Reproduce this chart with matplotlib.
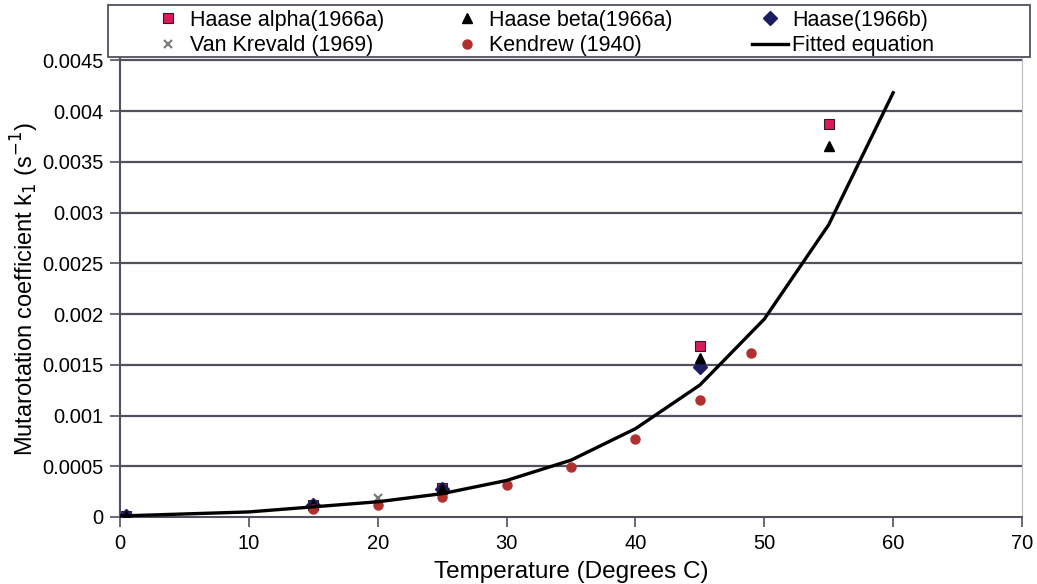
import matplotlib.pyplot as plt
from matplotlib.patches import Rectangle
from matplotlib.ticker import FixedLocator

plt.rcParams['font.family'] = ['Liberation Sans', 'DejaVu Sans']

# data
alpha_t = [0.5, 15, 25, 45, 55]
alpha_k = [0.00001, 0.00012, 0.00029, 0.00168, 0.00387]
beta_t = [0.5, 15, 25, 45, 55]
beta_k = [0.00001, 0.00012, 0.00028, 0.00157, 0.00366]
haaseb_t = [0.5, 15, 25, 45]
haaseb_k = [0.00001, 0.00012, 0.00028, 0.00148]
vank_t = [20]
vank_k = [0.00019]
kend_t = [15, 20, 25, 30, 35, 40, 45, 49]
kend_k = [0.00008, 0.00012, 0.0002, 0.00032, 0.00049, 0.00077, 0.00115, 0.00162]
fit_t = [0, 10, 15, 20, 25, 30, 35, 40, 45, 50, 55, 60]
fit_k = [0.00001, 0.00005, 0.0001, 0.00015, 0.00023, 0.00036, 0.00056, 0.00087, 0.0013, 0.00195, 0.00288, 0.00418]

yticks = [0, 0.0005, 0.001, 0.0015, 0.002, 0.0025, 0.003, 0.0035, 0.004, 0.0045]
ylabels = ['0', '0.0005', '0.001', '0.0015', '0.002', '0.0025', '0.003', '0.0035', '0.004', '0.0045']

W, H = 1037, 584
fig = plt.figure(figsize=(W / 100, H / 100), dpi=100)
ax = fig.add_axes([120 / W, 1 - 517 / H, 902 / W, 477 / H])

grid_c = '#50505e'
for y in yticks[1:]:
    ax.axhline(y, color=grid_c, lw=1.6, zorder=1)

h1, = ax.plot(alpha_t, alpha_k, 's', color='#dc1a5a', mec='#222222', mew=0.8, ms=7, zorder=3, label='Haase alpha(1966a)')
h2, = ax.plot(beta_t, beta_k, '^', color='black', ms=7, zorder=4, label='Haase beta(1966a)')
h3, = ax.plot(haaseb_t, haaseb_k, 'D', color='#1c1c60', mec='#1c1c60', ms=7, zorder=3.5, label='Haase(1966b)')
h4, = ax.plot(vank_t, vank_k, 'x', color='#777777', ms=6, mew=1.5, zorder=4, label='Van Krevald (1969)')
h5, = ax.plot(kend_t, kend_k, 'o', color='#b03030', ms=6.5, zorder=5, label='Kendrew (1940)')
h6, = ax.plot(fit_t, fit_k, '-', color='black', lw=2.4, zorder=6, label='Fitted equation')

ax.set_xlim(0, 70)
ax.set_ylim(0, 0.0047)
ax.set_xticks(range(0, 80, 10))
ax.yaxis.set_major_locator(FixedLocator(yticks))
ax.set_yticklabels(ylabels)
ax.tick_params(axis='both', labelsize=14.5, direction='out', length=7, width=1.2, color=grid_c, pad=5)

for s in ['left', 'bottom']:
    ax.spines[s].set_color(grid_c)
    ax.spines[s].set_linewidth(1.5)
ax.spines['right'].set_color('#bbbbbb')
ax.spines['top'].set_visible(False)

ax.set_xlabel('Temperature (Degrees C)', fontsize=17.5, labelpad=6)
ax.set_ylabel('Mutarotation coefficient k$_1$ (s$^{-1}$)', fontsize=17)
ax.yaxis.set_label_coords(-0.088, 0.478)

# legend box
box = Rectangle((108 / W, 1 - 57 / H), 922 / W, 52 / H, transform=fig.transFigure,
                facecolor='white', edgecolor=grid_c, lw=1.3, zorder=9)
fig.patches.append(box)

# one legend per column so each column sits where it does in the original
columns = [([h1, h4], 150), ([h2, h5], 449), ([h3, h6], 752)]
for handles, x0 in columns:
    leg = fig.legend(handles, [h.get_label() for h in handles],
                     loc='upper left', bbox_to_anchor=(x0 / W, 1 - 10 / H),
                     fontsize=15.5, frameon=False, borderpad=0, borderaxespad=0,
                     handlelength=1.67, handletextpad=0.2, labelspacing=0.2)
    leg.set_zorder(10)

fig.savefig('out.png', dpi=100)
